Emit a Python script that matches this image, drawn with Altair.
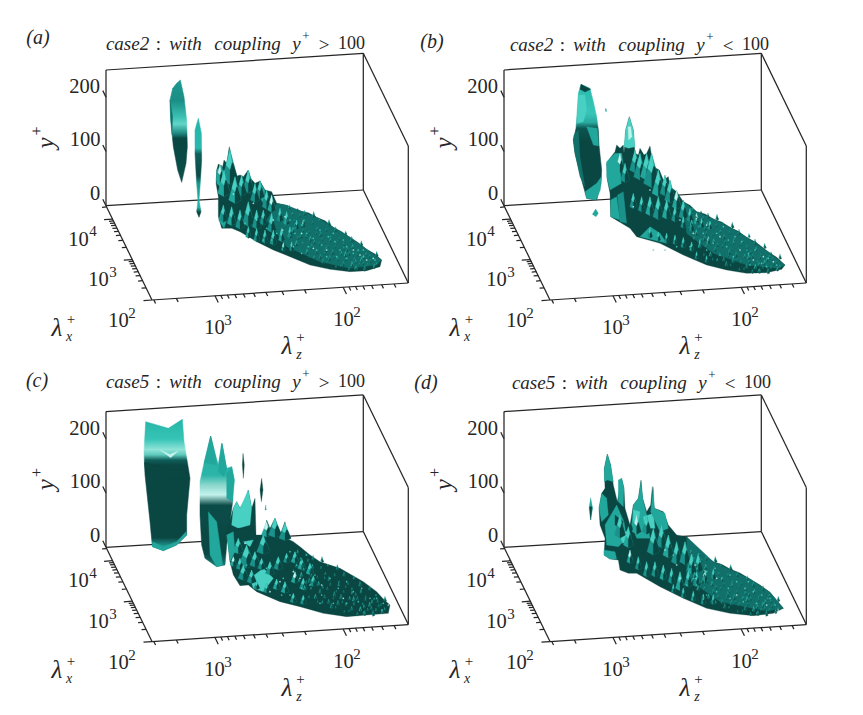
import math
import altair as alt
import pandas as pd

alt.data_transformers.disable_max_rows()

# palette of the lit surface
D, M, N, T, L, H = "#0a4642", "#12706a", "#1a918a", "#22a79c", "#48d0c3", "#c2f3ec"
INK = "#262626"
SERIF = "Liberation Serif"

ORIGIN_A = (0, 20)
ORIGIN_B = (420, 20)
ORIGIN_C = (0, 365)
ORIGIN_D = (420, 365)

# ---- large smooth lobes: outline and its bands of shade from top (0) to bottom (1) ----
LOBE_A = [
 ([541,180,552,230,560,300,562,380,558,430,545,487,533,450,520,380,512,300,510,240,518,205,530,190],
  [(0,"#1d9a90"),(.2,"#1a8e85"),(.36,"#3cc0b3"),(.43,"#62d5c8"),(.52,"#1f8a82"),(.57,"#0a4642"),(1,"#0c4f4a")]),
 ([595,295,604,340,605,420,600,500,597,540,603,575,597,592,590,575,594,540,590,490,585,400,585,330],
  [(0,"#22b5a9"),(.3,"#2bb8ac"),(.36,"#0f5f5a"),(.58,"#0b4a45"),(.66,"#1a9a90"),(.9,"#25b3a7"),(.95,"#0a4642"),(1,"#0a4642")]),
]
LOBE_B = [
 ([483,193,510,205,520,245,530,290,535,330,537,375,545,450,543,490,530,540,500,535,485,480,465,400,460,360,468,325,472,270,475,220],
  [(0,"#2bb9ad"),(.25,"#37c5b8"),(.33,"#2aa99f"),(.38,"#0c5550"),(.5,"#0a4642"),(1,"#0a4642")]),
]
LOBE_C = [
 ([437,170,505,190,547,163,552,230,570,340,560,450,560,510,530,540,490,557,457,545,450,470,435,330,432,260],
  [(0,"#27b5a8"),(.15,"#35c4b6"),(.23,"#8fe3d7"),(.27,"#5fcabd"),(.31,"#0f5e59"),(.35,"#0a4642"),(.9,"#0a4642"),(.96,"#1d9088"),(1,"#1d9088")]),
 ([600,350,612,295,632,213,645,265,655,300,665,235,680,310,695,305,703,345,698,410,690,470,680,540,675,600,650,605,615,580,605,540,600,450],
  [(0,"#0d5a55"),(.1,"#23b0a4"),(.3,"#2cb5a8"),(.38,"#8fd9cf"),(.45,"#c2f3ec"),(.53,"#0c4c48"),(.9,"#0a4642"),(1,"#168078")]),
]
LOBE_D = []

# ---- facets and small pieces ----
POLY_A = [
 (M,[510,240,518,290,516,345,512,300]),
 # main mass
 (D,[650,450,655,432,668,440,672,420,680,430,688,380,697,425,705,470,720,465,730,470,745,450,752,475,765,490,780,483,795,510,815,515,830,550,860,556,880,566,905,574,925,578,950,592,975,602,1000,622,1025,635,1050,652,1075,668,1100,688,1125,702,1145,720,1140,740,1100,752,1050,755,990,748,930,735,870,710,820,690,770,665,720,635,695,625,665,625,655,590,655,530,648,490]),
 (M,[830,550,860,556,905,574,950,592,1000,622,1050,652,1100,688,1145,720,1130,735,1050,745,960,725,860,680,800,600]),
 (T,[650,450,665,435,672,470,660,500,650,490]),
 (T,[688,385,697,430,705,480,690,480,680,440]),
 (T,[745,455,755,480,750,520,738,500]),
 (T,[780,485,795,512,790,550,775,525]),
 (T,[665,570,680,600,672,625,656,600]),
]
SPIKE_A = [
 660,480,45, 672,520,70, 690,480,90, 705,540,70, 725,520,55, 745,510,60, 765,540,50, 780,530,48, 800,560,50, 815,570,45,
 670,600,45, 695,610,50, 720,620,50, 745,610,65, 770,620,50, 790,610,40, 815,630,50, 840,600,35, 860,610,35,
 745,650,30, 770,660,35, 795,665,35, 820,670,40, 845,660,35, 870,650,30, 890,625,25, 910,620,20, 850,690,22, 875,690,25,
]
SPECK_A = {
 H:[700,522,855,590,848,630,940,685,1080,705,1100,720,1060,690,905,640,820,600,760,550,1120,715,980,690],
 L:[870,600,885,640,905,615,920,640,940,655,925,680,950,690,965,675,985,650,1005,665,1020,690,1040,680,1060,700,1075,690,1090,710,1125,720,1040,715,1010,710,980,710,905,700,880,680,830,640,800,625,770,600,735,610,815,660,790,660,1000,640,960,630,1030,660,1090,690],
}

POLY_B = [
 (L,[476,225,495,225,500,270,490,305,472,310,472,270]),
 (D,[483,193,512,208,495,216,480,208]),
 (M,[462,345,475,330,480,410,495,500,480,470,465,400,460,360]),
 (T,[500,320,532,325,536,378,520,375]),
 (T,[530,490,544,470,541,510,528,540,500,535,495,515]),
 (T,[527,567,535,580,528,590,517,583]),
 (T,[557,265,560,270,558,276,556,270]),
 # main mass
 (D,[570,415,585,395,590,375,600,385,610,375,612,400,617,330,628,290,640,330,645,400,655,405,660,385,672,405,680,400,690,378,700,440,718,450,730,480,745,470,750,500,770,515,790,545,810,556,830,575,855,582,880,597,905,606,930,622,955,634,980,652,1010,668,1040,692,1070,712,1095,735,1085,748,1040,758,980,760,920,750,860,735,790,705,720,670,650,650,630,625,572,590,570,520,562,480,560,430]),
 (M,[790,545,830,575,880,597,930,622,980,652,1040,692,1095,735,1075,745,980,735,880,700,800,640]),
 (T,[560,425,585,400,605,400,612,450,605,490,570,510,560,470]),
 (D,[600,430,620,440,625,480,605,490]),
 (T,[572,540,590,530,600,600,572,590]),
 (N,[592,525,610,515,620,610,600,605]),
 (L,[617,330,628,290,640,330,645,380,625,385,612,380]),
 (H,[624,320,632,320,636,350,626,360]),
 (T,[690,620,720,640,740,670,700,660,660,650]),
]
SPIKE_B = [
 600,450,50, 615,480,50, 645,450,60, 660,470,70, 680,470,70, 695,490,90, 715,520,70, 735,520,55, 750,540,60, 770,560,50, 790,590,50, 810,600,35, 830,610,30,
 640,560,40, 665,570,40, 690,580,50, 715,590,60, 740,590,50, 765,600,40, 790,620,30, 815,630,30, 845,620,25, 870,625,22,
 690,650,28, 715,660,24, 740,665,26, 765,670,25, 790,680,28, 815,690,24, 840,680,22, 865,670,20, 830,715,20, 860,725,18,
]
SPECK_B = {
 H:[640,560,690,510,780,600,860,615,820,640,1030,710,900,650,960,690,1060,725,1000,720],
 L:[830,600,850,640,870,610,890,640,910,620,925,660,945,650,965,665,985,700,1005,690,1025,730,1045,715,1070,735,940,710,900,705,860,690,810,680,770,680,735,690,700,690,920,680,880,670,1040,740,990,735],
}

POLY_C = [
 (H,[480,255,510,268,535,258,512,278]),
 (T,[458,530,490,545,530,530,558,500,560,510,530,540,490,557,457,545]),
 (D,[433,292,510,312,560,318,566,345,500,340,436,320]),
 (T,[612,295,632,213,645,265,650,300,625,295]),
 (T,[657,290,667,235,680,310,672,335,655,320]),
 (T,[680,325,695,305,703,345,698,410,680,400]),
 (T,[625,440,650,470,668,600,650,605,630,570]),
 (D,[729,265,733,300,730,340,727,300]),
 (D,[785,340,789,375,784,410,780,375]),
 (T,[797,420,799,435,795,435]),
 # main mass
 (D,[680,500,700,430,710,410,720,430,735,405,745,375,755,430,765,400,768,510,795,510,800,465,810,490,825,460,840,510,855,470,860,520,880,530,900,545,930,570,960,590,990,600,1020,610,1055,630,1090,650,1110,665,1130,680,1150,702,1170,720,1165,745,1100,750,1040,755,970,745,900,725,840,710,770,680,745,660,720,662,700,630,690,590]),
 (L,[700,430,710,410,720,430,745,375,755,430,750,480,715,490,695,480]),
 (D,[705,490,755,490,770,520,755,560,720,570,700,540]),
 (T,[680,510,700,500,705,560,690,590]),
 (L,[730,530,760,525,750,545]),
 (L,[750,640,790,610,820,640,790,680,760,670]),
]
SPIKE_C = [
 715,560,40, 740,600,60, 765,600,40, 790,560,50, 800,510,40, 825,510,50, 855,520,45, 730,640,40, 755,650,35, 785,610,30, 810,625,35, 835,610,35, 860,590,25, 885,590,30, 905,610,30, 930,625,30,
 770,670,22, 800,680,25, 830,670,28, 855,680,30, 885,650,30, 910,670,30, 940,660,28, 880,710,25, 910,715,24, 720,610,30, 700,600,25,
]
SPECK_C = {
 H:[735,535,840,650,810,680,1165,720,900,640,1030,700,965,660,880,620],
 L:[870,560,890,600,850,640,905,670,930,660,965,690,945,630,990,640,1015,670,1040,650,1060,680,1085,670,1110,700,1130,700,1150,715,1040,715,1000,715,960,715,870,690,845,690,780,640,800,610,740,600,920,570,1075,710,1145,735],
}

POLY_D = [
 (T,[512,398,518,430,512,465,507,430]),
 (D,[509,425,516,425,512,465]),
 # main mass
 (D,[552,570,555,520,540,480,537,430,545,385,555,370,553,310,562,267,572,300,580,360,592,410,605,340,612,370,615,430,630,480,640,420,655,400,663,345,668,400,680,440,692,420,697,365,703,430,730,440,745,480,770,510,800,515,830,560,855,574,880,590,905,598,930,612,960,624,990,642,1020,660,1050,682,1070,706,1090,730,1060,745,1000,752,930,745,860,730,790,700,720,665,650,625,625,625,600,615,595,585,570,582]),
 (M,[800,515,880,590,990,642,1050,682,1090,730,1040,738,900,710,800,640]),
 (T,[553,310,562,267,572,300,580,350,562,345,553,350]),
 (T,[537,430,545,385,560,400,565,450,545,470]),
 (T,[555,480,590,420,612,470,620,520,595,545,560,540]),
 (T,[552,555,585,560,590,582,570,582,552,570]),
 (D,[585,450,610,470,605,490,585,480]),
 (L,[600,510,625,495,630,525,608,535]),
 (T,[595,345,605,340,612,370,610,425,595,410]),
 (T,[640,420,655,400,663,350,668,400,680,450,690,520,650,520,635,480]),
 (L,[640,435,660,440,655,470,640,470]),
 (L,[670,455,700,445,705,490,675,490]),
 (T,[700,365,703,430,735,445,745,490,720,500,692,440]),
]
SPIKE_D = [
 600,510,60, 625,540,55, 650,500,50, 680,500,50, 700,560,70, 725,540,60, 745,570,60, 770,590,60, 795,590,60, 815,620,55, 835,615,50,
 630,590,35, 655,610,35, 680,630,40, 705,630,40, 730,640,40, 755,650,40, 780,670,50, 805,660,45, 830,660,40, 855,650,35, 880,640,28,
 760,680,22, 790,695,26, 820,705,26, 850,715,28, 880,715,26,
]
SPECK_D = {
 H:[735,555,780,640,770,600,825,600,1040,720,1075,735,950,690,890,640],
 L:[840,590,860,620,885,610,905,640,930,630,950,650,975,670,1000,680,1025,690,1050,700,1065,720,1010,715,970,710,930,700,890,680,860,690,830,660,800,660,760,570,820,640,925,670,985,650],
}

# fine grain of the thin end of the ridge, read from (a); the other panels carry it shifted
GRAIN = [
 868,562, 893,570, 914,581, 941,586, 958,602, 987,610, 1007,630, 1037,640, 1055,660, 1084,672, 1103,692, 1130,704,
 877,583, 899,588, 912,607, 938,609, 951,627, 979,631, 992,652, 1019,657, 1031,674, 1058,681, 1072,698, 1098,703, 1118,720,
 864,604, 886,615, 905,619, 927,637, 949,640, 966,659, 991,661, 1006,681, 1031,685, 1047,702, 1071,705, 1084,721, 1111,724, 1129,733,
 879,632, 903,649, 917,651, 943,668, 957,672, 984,680, 998,698, 1024,701, 1037,718, 1063,718, 1078,735, 1103,736, 1122,741,
 889,672, 908,671, 935,681, 949,697, 975,701, 989,716, 1013,719, 1030,733, 1056,735, 1069,746, 1094,747,
 902,697, 928,711, 942,713, 969,726, 982,728, 1008,741, 1022,739, 1047,748, 1066,746,
 883,604, 909,633, 931,658, 962,644, 978,690, 1012,666, 1042,690, 1067,726, 1091,712, 1036,705, 1002,712, 961,712,
 921,697, 894,654, 872,648, 856,618, 1089,731, 1108,710,
]
GRAIN_SHIFT = [(0, 0), (-50, 8), (25, 0), (-55, 0)]
GRAIN_SIZE = [1, .7, 1.25, .8, 1.4, .9, .6]

PANELS = [
 ("(a)", (38, 38), ORIGIN_A, (0, 0), LOBE_A, POLY_A, SPIKE_A, SPECK_A, "case2", ">", .27),
 ("(b)", (432, 42), ORIGIN_B, (398, 0), LOBE_B, POLY_B, SPIKE_B, SPECK_B, "case2", "<", .27),
 ("(c)", (37, 381), ORIGIN_C, (0, 341.6), LOBE_C, POLY_C, SPIKE_C, SPECK_C, "case5", ">", .4),
 ("(d)", (426, 383), ORIGIN_D, (398, 341.6), LOBE_D, POLY_D, SPIKE_D, SPECK_D, "case5", "<", .27),
]
TITLE_SHIFT = [(0, 0), (404, 1), (0, 338), (406, 339)]

# ---- axes box of panel (a) in the picture ----
TOP_L, TOP_R = (106, 70), (363.3, 53.3)
BASE_L, BASE_R = (106, 205.7), (363.3, 190)
FRONT_L, FRONT_R = (152, 300), (408.3, 283)
SIDE_TOP = (408.3, 146)
BOX = [(TOP_L, TOP_R), (TOP_R, BASE_R), (BASE_L, BASE_R), (TOP_L, BASE_L), (TOP_R, SIDE_TOP),
       (SIDE_TOP, FRONT_R), (BASE_R, FRONT_R), (BASE_L, FRONT_L), (FRONT_L, FRONT_R)]

# axis limits
LX_TOP, LX_BOTTOM = 2.15e4, 1e2
LZ_LEFT, LZ_RIGHT = 3.1e3, 31
Y_MAX = 250
LX_TICKS = [v for v in (1e2 * m * 10 ** d for d in range(3) for m in range(1, 10)) if v <= 2.1e4]
LZ_TICKS = [v for v in (10 * m * 10 ** d for d in range(3) for m in range(1, 10)) if 31 <= v <= 3100]
Y_TICKS = [0, 100, 200]


def lerp(a, b, t):
    return (a[0] + (b[0] - a[0]) * t, a[1] + (b[1] - a[1]) * t)


def tick_rows():
    out = []
    for v in LX_TICKS:
        t = math.log10(v / LX_BOTTOM) / math.log10(LX_TOP / LX_BOTTOM)
        p = lerp(FRONT_L, BASE_L, t)
        n = 8.5 if v in (1e2, 1e3, 1e4) else 4.5
        out.append((p, (p[0] - n, p[1] + n * 0.07)))
    for v in LZ_TICKS:
        t = math.log10(LZ_LEFT / v) / math.log10(LZ_LEFT / LZ_RIGHT)
        p = lerp(FRONT_L, FRONT_R, t)
        n = 7.5 if v in (1e2, 1e3) else 4
        out.append((p, (p[0] + n * 0.44, p[1] + n * 0.9)))
    for v in Y_TICKS:
        t = v / Y_MAX
        p = lerp(BASE_L, TOP_L, t)
        out.append((p, (p[0] - 3.2, p[1] - 6.5)))
    return out


seg, poly, pts, roman, ital, lobes = [], [], [], [], [], []
pid = 0


def add_poly(flat, col, org, rows):
    global pid
    pid += 1
    for i in range(0, len(flat), 2):
        rows.append(dict(pid=pid, i=i, x=flat[i] / 3 + org[0], y=flat[i + 1] / 3 + org[1], c=col))


for n, (tag, tagxy, org, (dx, dy), lobe, polys, spikes, specks, case, sign, ratio) in enumerate(PANELS):
    for a, b in BOX + tick_rows():
        seg.append(dict(x=a[0] + dx, y=a[1] + dy, x2=b[0] + dx, y2=b[1] + dy))
    for flat, stops in lobe:
        rows = []
        add_poly(flat, D, org, rows)
        lobes.append((rows, stops))
    for col, flat in polys:
        add_poly(flat, col, org, poly)
    triples = sorted(((spikes[i], spikes[i + 1], spikes[i + 2]) for i in range(0, len(spikes), 3)), key=lambda s: s[1])
    for k, (x, y, h) in enumerate(triples):
        w = h * ratio
        add_poly([x - w, y, x - w * .45, y - h * .55, x, y - h, x + w * .45, y - h * .55, x + w, y, x, y + h * .15],
                 N if k % 3 else T, org, poly)
        add_poly([x, y - h * .6, x + w * .4, y - h * .55, x + w, y, x, y + h * .15], D, org, poly)
        add_poly([x - w * .5, y - h * .5, x, y - h, x + w * .25, y - h * .6, x, y - h * .35],
                 H if k % 9 == 0 else L, org, poly)
    # grain of the tail, back to front
    gx, gy = GRAIN_SHIFT[n]
    grain = sorted(((GRAIN[k] + gx, GRAIN[k + 1] + gy) for k in range(0, len(GRAIN), 2)), key=lambda p: p[1])
    for k, (x, y) in enumerate(grain):
        s = GRAIN_SIZE[k % len(GRAIN_SIZE)]
        add_poly([x - 3 * s, y + 2 * s, x, y - 8 * s, x + 3 * s, y + 2 * s],
                 "#1f958c" if k % 3 else "#30b5a9", org, poly)
        add_poly([x, y - 3 * s, x + 4 * s, y + 3 * s, x - s, y + 5 * s], "#0d5852", org, poly)
    for col, flat in specks.items():
        for i in range(0, len(flat), 2):
            pts.append(dict(x=flat[i] / 3 + org[0], y=flat[i + 1] / 3 + org[1], c=col))
    # tag
    ital.append(dict(x=tagxy[0], y=tagxy[1], t=tag, s=20, a=0))
    # title pieces
    sx, sy = TITLE_SHIFT[n]
    for word, cx in ((case, 127.5), ("with", 185.5), ("coupling", 247.5), ("y", 296.5)):
        ital.append(dict(x=cx + sx, y=44 + sy, t=word, s=19, a=0))
    roman.append(dict(x=158.5 + sx, y=44 + sy, t=":", s=19, a=0))
    roman.append(dict(x=306 + sx, y=36 + sy, t="+", s=13, a=0))
    roman.append(dict(x=324 + sx, y=45 + sy, t=sign, s=19, a=0))
    roman.append(dict(x=351.5 + sx, y=44 + sy, t="100", s=18, a=0))
    # y ticks
    for txt, cx, cy in (("200", 84.5, 87), ("100", 85, 140), ("0", 95, 194)):
        roman.append(dict(x=cx + dx, y=cy + dy, t=txt, s=20.5, a=0))
    # log tick labels
    for base_x, base_y, sup_x, sup_y, sup in ((78.5, 239.5, 93, 231, "4"), (98.5, 280, 113, 272, "3"), (118.5, 321, 132, 313, "2"),
                                              (214.5, 328, 228, 320, "3"), (343.5, 320, 357, 312, "2")):
        roman.append(dict(x=base_x + dx, y=base_y + dy, t="10", s=20.5, a=0))
        roman.append(dict(x=sup_x + dx, y=sup_y + dy, t=sup, s=15, a=0))
    # axis names
    ital.append(dict(x=57 + dx, y=328 + dy, t="λ", s=25, a=0))
    roman.append(dict(x=71 + dx, y=319 + dy, t="+", s=15, a=0))
    ital.append(dict(x=69 + dx, y=337 + dy, t="x", s=14, a=0))
    ital.append(dict(x=287 + dx, y=346 + dy, t="λ", s=25, a=0))
    roman.append(dict(x=300.5 + dx, y=337 + dy, t="+", s=15, a=0))
    ital.append(dict(x=299 + dx, y=355 + dy, t="z", s=14, a=0))
    ital.append(dict(x=46 + dx, y=143 + dy, t="y", s=25, a=270))
    roman.append(dict(x=36.5 + dx, y=131 + dy, t="+", s=16, a=270))

# the page shows at most 847x699 without shrinking the drawing
XS = alt.Scale(domain=[8, 855], range=[0, 847], nice=False, zero=False)
YS = alt.Scale(domain=[707, 8], range=[699, 0], nice=False, zero=False)
X = alt.X("x:Q", scale=XS, axis=None)
Y = alt.Y("y:Q", scale=YS, axis=None)

frame = alt.Chart(pd.DataFrame(seg)).mark_rule(color=INK, strokeWidth=1.25).encode(x=X, y=Y, x2="x2:Q", y2="y2:Q")

lobe_layers = []
for rows, stops in lobes:
    grad = alt.LinearGradient(
        gradient="linear", x1=0, x2=0, y1=0, y2=1,
        stops=[alt.GradientStop(offset=o, color=c) for o, c in stops],
    )
    lobe_layers.append(
        alt.Chart(pd.DataFrame(rows)).mark_line(
            interpolate="linear-closed", fill=grad, stroke=grad, strokeWidth=0.5,
        ).encode(x=X, y=Y, order="i:Q")
    )

surface = alt.Chart(pd.DataFrame(poly)).mark_line(
    interpolate="linear-closed", fill=M, strokeWidth=0.3, strokeJoin="round"
).encode(
    x=X, y=Y, detail="pid:N", order="i:Q",
    fill=alt.Fill("c:N", scale=None), stroke=alt.Stroke("c:N", scale=None),
)
speck = alt.Chart(pd.DataFrame(pts)).mark_circle(size=3, opacity=0.85).encode(
    x=X, y=Y, color=alt.Color("c:N", scale=None)
)


def text_layer(rows, style):
    return alt.Chart(pd.DataFrame(rows)).mark_text(
        font=SERIF, fontStyle=style, color=INK, baseline="middle", align="center"
    ).encode(
        x=X, y=Y, text="t:N",
        size=alt.Size("s:Q", scale=None),
        angle=alt.Angle("a:Q", scale=None),
    )


chart = alt.layer(frame, *lobe_layers, surface, speck, text_layer(roman, "normal"), text_layer(ital, "italic")).properties(
    width=847, height=699, padding=0, autosize=alt.AutoSizeParams(type="none"),
).configure_view(stroke=None)

chart.save("out.html", embed_options={"renderer": "svg", "actions": False})
